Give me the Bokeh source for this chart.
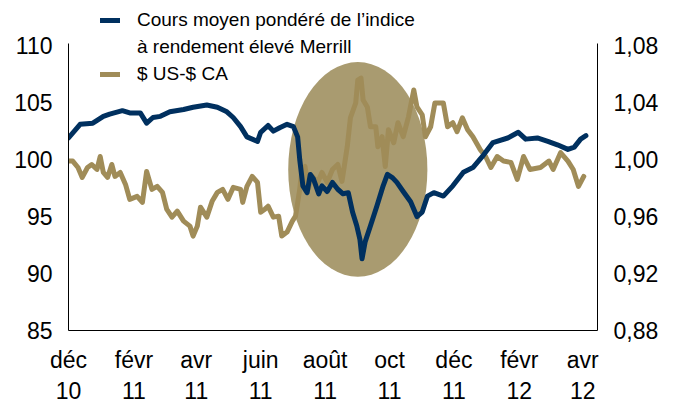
import pandas as pd
from bokeh.plotting import figure
from bokeh.models import (Range1d, LinearAxis, FixedTicker, Legend, LegendItem)
from bokeh.embed import file_html
from bokeh.resources import INLINE

# Merrill high-yield index weighted average price (left axis)
hy_dates = ["2010-12-01", "2010-12-12", "2010-12-24", "2011-01-03", "2011-01-09", "2011-01-21",
            "2011-01-28", "2011-02-07", "2011-02-13", "2011-02-19", "2011-02-26", "2011-03-07",
            "2011-03-20", "2011-03-29", "2011-04-11", "2011-04-21", "2011-04-30", "2011-05-06",
            "2011-05-13", "2011-05-19", "2011-05-29", "2011-06-01", "2011-06-08", "2011-06-13",
            "2011-06-19", "2011-06-26", "2011-07-02", "2011-07-06", "2011-07-08", "2011-07-11",
            "2011-07-15", "2011-07-18", "2011-07-21", "2011-07-26", "2011-07-29", "2011-08-03",
            "2011-08-08", "2011-08-13", "2011-08-18", "2011-08-23", "2011-08-27", "2011-08-31",
            "2011-09-03", "2011-09-05", "2011-09-08", "2011-09-13", "2011-09-19", "2011-09-25",
            "2011-09-29", "2011-10-04", "2011-10-08", "2011-10-14", "2011-10-21", "2011-10-27",
            "2011-11-01", "2011-11-06", "2011-11-12", "2011-11-21", "2011-11-30", "2011-12-10",
            "2011-12-19", "2011-12-29", "2012-01-07", "2012-01-21", "2012-01-31", "2012-02-07",
            "2012-02-18", "2012-02-28", "2012-03-08", "2012-03-18", "2012-03-24", "2012-03-30",
            "2012-04-04"]
hy_values = [101.9, 103.1, 103.2, 103.8, 104.0, 104.3,
             104.1, 104.1, 103.2, 103.7, 103.8, 104.2,
             104.4, 104.6, 104.8, 104.6, 104.2, 103.7,
             102.9, 102.0, 101.6, 102.4, 103.0, 102.5,
             102.8, 103.1, 102.9, 102.0, 100.0, 97.7,
             97.1, 98.7, 98.3, 97.0, 97.7, 97.2,
             98.0, 97.4, 97.0, 97.1, 95.4, 94.2,
             93.0, 91.3, 92.8, 94.2, 95.9, 97.7,
             98.7, 98.4, 98.0, 97.2, 96.3, 95.0,
             95.4, 96.8, 97.1, 96.8, 97.7, 98.9,
             99.3, 100.4, 101.5, 101.9, 102.4, 101.8,
             101.9, 101.6, 101.3, 100.9, 101.1, 101.8,
             102.1]

# USD / CAD (right axis)
fx_dates = ["2010-12-01", "2010-12-05", "2010-12-10", "2010-12-14", "2010-12-19", "2010-12-23",
            "2010-12-28", "2010-12-31", "2011-01-03", "2011-01-07", "2011-01-11", "2011-01-14",
            "2011-01-19", "2011-01-24", "2011-01-28", "2011-02-04", "2011-02-09", "2011-02-13",
            "2011-02-18", "2011-02-23", "2011-02-28", "2011-03-04", "2011-03-09", "2011-03-14",
            "2011-03-20", "2011-03-26", "2011-03-29", "2011-04-02", "2011-04-05", "2011-04-11",
            "2011-04-16", "2011-04-21", "2011-04-26", "2011-05-01", "2011-05-06", "2011-05-13",
            "2011-05-15", "2011-05-19", "2011-05-24", "2011-05-29", "2011-06-01", "2011-06-05",
            "2011-06-08", "2011-06-13", "2011-06-18", "2011-06-21", "2011-06-26", "2011-07-01",
            "2011-07-04", "2011-07-08", "2011-07-10", "2011-07-13", "2011-07-16", "2011-07-20",
            "2011-07-25", "2011-07-29", "2011-08-03", "2011-08-08", "2011-08-13", "2011-08-17",
            "2011-08-22", "2011-08-25", "2011-08-30", "2011-09-01", "2011-09-04", "2011-09-06",
            "2011-09-10", "2011-09-13", "2011-09-18", "2011-09-20", "2011-09-24", "2011-09-27",
            "2011-09-30", "2011-10-05", "2011-10-09", "2011-10-14", "2011-10-19", "2011-10-24",
            "2011-10-27", "2011-11-01", "2011-11-04", "2011-11-09", "2011-11-13", "2011-11-21",
            "2011-11-25", "2011-11-30", "2011-12-04", "2011-12-09", "2011-12-14", "2011-12-19",
            "2011-12-26", "2011-12-31", "2012-01-05", "2012-01-11", "2012-01-17", "2012-01-24",
            "2012-01-30", "2012-02-05", "2012-02-11", "2012-02-21", "2012-02-29", "2012-03-04",
            "2012-03-11", "2012-03-18", "2012-03-23", "2012-03-28", "2012-04-02"]
fx_values = [0.999, 0.999, 0.9945, 0.9875, 0.9945, 0.9966,
             0.9931, 1.0022, 0.991, 0.9875, 0.9966, 0.9882,
             0.991, 0.9826, 0.9721, 0.9742, 0.970, 0.9917,
             0.9791, 0.9812, 0.977, 0.9652, 0.9596, 0.9638,
             0.9568, 0.9533, 0.9463, 0.9533, 0.9666, 0.9596,
             0.9707, 0.977, 0.9791, 0.9721, 0.9805, 0.9791,
             0.970, 0.9812, 0.9882, 0.984, 0.9631, 0.9652,
             0.9673, 0.9596, 0.9603, 0.9463, 0.9491, 0.9568,
             0.9603, 0.9791, 0.9931, 0.9952, 0.9791, 0.9882,
             0.984, 0.991, 0.984, 0.9931, 0.9966, 0.9847,
             1.0091, 1.0294, 1.0398, 1.0559, 1.0573, 1.0419,
             1.037, 1.0231, 1.0231, 1.0091, 1.0161, 0.9952,
             1.021, 1.0119, 1.0259, 1.0161, 1.0301, 1.0489,
             1.037, 1.0315, 1.0161, 1.0231, 1.0398, 1.0398,
             1.0231, 1.0259, 1.0196, 1.0294, 1.021, 1.0161,
             1.007, 1.0022, 0.9945, 1.0022, 0.999, 0.998,
             0.9861, 1.0022, 0.9931, 0.9945, 0.999, 0.9931,
             1.0049, 0.999, 0.9931, 0.9812, 0.9882]

tick_dates = ["2010-12-01", "2011-02-01", "2011-04-01", "2011-06-01", "2011-08-01",
              "2011-10-01", "2011-12-01", "2012-02-01", "2012-04-01"]
tick_labels = ["déc\n10", "févr\n11", "avr\n11", "juin\n11", "août\n11",
               "oct\n11", "déc\n11", "févr\n12", "avr\n12"]
left_ticks = [85, 90, 95, 100, 105, 110]
right_ticks = [0.88, 0.92, 0.96, 1.00, 1.04, 1.08]
right_tick_labels = ["0,88", "0,92", "0,96", "1,00", "1,04", "1,08"]

label_hy_1 = "Cours moyen pondéré de l’indice"
label_hy_2 = "à rendement élevé Merrill"
label_fx = "$ US-$ CA"

# highlighted period (ellipse)
hl_center = "2011-09-01"
hl_center_val = 99.14
hl_width_days = 131.8
hl_height = 18.85

NAVY = "#00305F"
GOLD = "#A08C58"
SHADE = "#A99B70"
FONT = "Liberation Sans"

hy_x = pd.to_datetime(hy_dates)
fx_x = pd.to_datetime(fx_dates)

LEFT_TOP = 110.22          # top end of the drawn axes
VIEW_TOP = 85 + 332 / 11.46  # frame extends above the axes for the legend
RATIO = 0.008              # right-axis units per left-axis unit

p = figure(width=673, height=406, x_axis_type="datetime",
           output_backend="svg", toolbar_location=None,
           x_range=Range1d(pd.Timestamp("2010-12-01"), pd.Timestamp("2012-04-15")),
           y_range=Range1d(85, VIEW_TOP),
           min_border_left=68, min_border_right=76,
           min_border_top=0, min_border_bottom=74)
p.extra_y_ranges = {"fx": Range1d(0.88, 0.88 + (VIEW_TOP - 85) * RATIO)}
p.outline_line_color = None
p.grid.visible = False
p.background_fill_color = "white"
p.border_fill_color = "white"

p.ellipse(x=[pd.Timestamp(hl_center)], y=[hl_center_val],
          width=[hl_width_days * 86400000], height=[hl_height],
          fill_color=SHADE, line_color=None)

fx_r = p.line(fx_x, fx_values, y_range_name="fx", line_color=GOLD, line_width=5,
              line_join="round", line_cap="round")
hy_r = p.line(hy_x, hy_values, line_color=NAVY, line_width=5,
              line_join="round", line_cap="round")
blank_r = p.line(hy_x[:1], hy_values[:1], line_alpha=0)

right_axis = LinearAxis(y_range_name="fx")
p.add_layout(right_axis, "right")

tick_ms = [int(pd.Timestamp(d).value // 10**6) for d in tick_dates]
p.xaxis.ticker = FixedTicker(ticks=tick_ms)
p.xaxis.major_label_overrides = {ms: lab for ms, lab in zip(tick_ms, tick_labels)}
p.yaxis[0].ticker = FixedTicker(ticks=left_ticks)
p.yaxis[0].bounds = (85, LEFT_TOP)
right_axis.ticker = FixedTicker(ticks=right_ticks)
right_axis.major_label_overrides = {t: lab for t, lab in zip(right_ticks, right_tick_labels)}
right_axis.bounds = (0.88, 0.88 + (LEFT_TOP - 85) * RATIO)

for ax in [p.xaxis[0], p.yaxis[0], right_axis]:
    ax.axis_line_color = "black"
    ax.axis_line_width = 1
    ax.major_tick_line_color = None
    ax.minor_tick_line_color = None
    ax.major_tick_out = 0
    ax.major_tick_in = 0
    ax.major_label_text_font = FONT
    ax.major_label_text_font_size = "23px"
    ax.major_label_text_color = "black"
    ax.major_label_standoff = 16
p.xaxis[0].major_label_standoff = 16

legend = Legend(items=[LegendItem(label=label_hy_1, renderers=[hy_r]),
                       LegendItem(label=label_hy_2, renderers=[blank_r]),
                       LegendItem(label=label_fx, renderers=[fx_r])],
                location=(32, 245), orientation="vertical",
                padding=0, margin=0, spacing=5,
                glyph_width=20, glyph_height=22, label_height=22,
                label_standoff=17,
                label_text_font=FONT, label_text_font_size="19px",
                label_text_color="black",
                background_fill_alpha=0, border_line_alpha=0)
p.add_layout(legend)

open("out.html", "w").write(file_html(p, INLINE))
